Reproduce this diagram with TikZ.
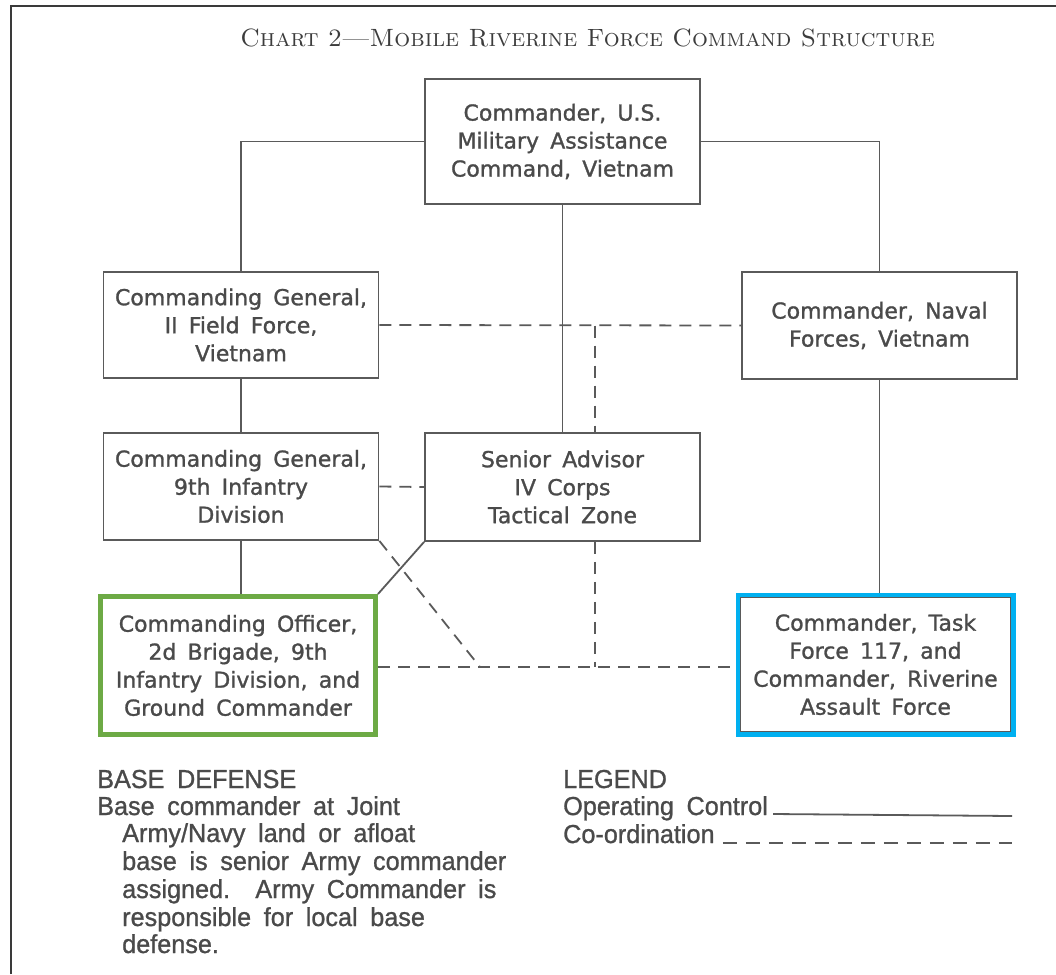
\documentclass[tikz,border=0pt]{standalone}
\usepackage{fontspec}
\newfontfamily\boxfont[WordSpace=1.6,FakeBold=1.2]{DejaVu Sans}
\newfontfamily\notefont[WordSpace=1.8,FakeBold=1.0,FakeStretch=0.97]{Liberation Sans}
\definecolor{linegray}{HTML}{5A5A5A}
\definecolor{textgray}{HTML}{4A4A4A}
\definecolor{titlegray}{HTML}{3C3C3C}
\definecolor{framegray}{HTML}{3A3A3A}
\definecolor{greenc}{HTML}{6DAA45}
\definecolor{bluec}{HTML}{00B0F0}
\begin{document}
\begin{tikzpicture}[x=1pt,y=-1pt,
  box/.style={draw=linegray, line width=1.8pt, minimum width=275pt, inner sep=0pt,
    align=center, font=\boxfont\fontsize{22}{28}\selectfont, text=textgray},
  solidline/.style={draw=linegray, line width=1.8pt},
  dashline/.style={draw=linegray, line width=1.8pt, dash pattern=on 12pt off 8pt},
  note/.style={anchor=base west, inner sep=0pt, font=\notefont\fontsize{26}{26}\selectfont, text=textgray}]
\useasboundingbox (0,0) rectangle (1056,974);
\fill[white] (0,0) rectangle (1056,974);
% frame
\draw[framegray, line width=2.5pt] (11,974) -- (11,6) -- (1056,6);
% title
\node[font=\fontsize{25}{25}\selectfont\scshape, text=titlegray, inner sep=0pt] (title) at (587.5,38)
  {Chart 2---Mobile Riverine Force Command Structure};
% boxes
\node[box, minimum height=125pt] (macv) at (562.5,141.5) {Commander, U.S.\\Military Assistance\\Command, Vietnam};
\node[box, minimum height=106pt] (cg2) at (241,325) {Commanding General,\\II Field Force,\\Vietnam};
\node[box, minimum height=107pt] (naval) at (879.5,325.5) {Commander, Naval\\Forces, Vietnam};
\node[box, minimum height=107pt] (cg9) at (241,486.5) {Commanding General,\\9th Infantry\\Division};
\node[box, minimum height=108pt] (sa) at (562.5,487) {Senior Advisor\\IV Corps\\Tactical Zone};
\node[box, draw=greenc, line width=5pt, minimum height=138pt] (co) at (238,665.5)
  {Commanding Officer,\\2d Brigade, 9th\\Infantry Division, and\\Ground Commander};
\node[box, draw=bluec, line width=5pt, minimum height=139pt] (tf) at (875.5,664.5)
  {Commander, Task\\Force 117, and\\Commander, Riverine\\Assault Force};
\draw[linegray, line width=1.4pt] ([shift={(5,5)}]tf.north west) rectangle ([shift={(-5,-5)}]tf.south east);
% operating control
\draw[solidline] (macv.west) -| (cg2.north);
\draw[solidline] (macv.east) -| (naval.north);
\draw[solidline] (macv.south) -- (sa.north);
\draw[solidline] (cg2.south) -- (cg9.north);
\draw[solidline] (cg9.south) -- (cg9.south |- co.north);
\draw[solidline] (naval.south) -- (naval.south |- tf.north);
\draw[solidline] (sa.south west) -- (co.north east);
% co-ordination
\coordinate (j1) at (595,325.5);
\coordinate (j2) at (595,667);
\coordinate (d1) at (480,667);
\draw[dashline] (cg2.east) -- (naval.west);
\draw[dashline] (j1) -- (j1 |- sa.north);
\draw[dashline] (cg9.east) -- (sa.west);
\draw[dashline] (sa.south -| j2) -- (j2);
\draw[dashline] (co.east |- d1) -- (tf.west |- d1);
\draw[dashline] (cg9.south east) -- (d1);
% base defense note
\node[note] (bd) at (97,788) {BASE DEFENSE};
\node[note] (b1) at (97,815) {Base commander at Joint};
\node[note] (b2) at (122,842) {Army/Navy land or afloat};
\node[note] (b3) at (122,870) {base is senior Army commander};
\node[note] (b4) at (122,898) {assigned.\ \ Army Commander is};
\node[note] (b5) at (122,926) {responsible for local base};
\node[note] (b6) at (122,953) {defense.};
% legend
\node[note] (lg) at (563,788) {LEGEND};
\node[note] (opc) at (563,815) {Operating Control};
\node[note] (cor) at (563,843) {Co-ordination};
\coordinate (opcend) at (1012,816);
\coordinate (corend) at (1012,843);
\draw[solidline] ([xshift=5pt,yshift=1pt]opc.base east) -- (opcend);
\draw[linegray, line width=1.8pt, dash pattern=on 14pt off 9pt] ([xshift=8pt]cor.base east) -- (corend);
\end{tikzpicture}
\end{document}
